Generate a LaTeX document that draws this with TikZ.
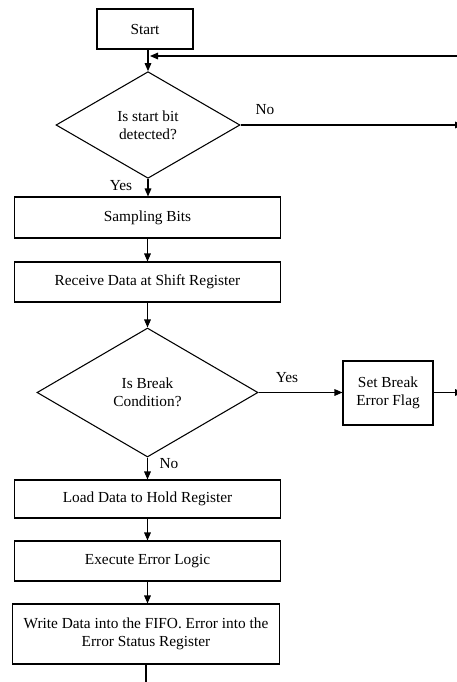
\documentclass[tikz,border=0pt]{standalone}
\usepackage{fontspec}
\setmainfont{Liberation Serif}
\usetikzlibrary{shapes.geometric,arrows.meta}
\begin{document}
\begin{tikzpicture}[x=0.75pt,y=-0.75pt,
  every node/.style={font=\fontsize{11.5}{13.5}\selectfont},
  box/.style={draw,line width=0.8pt,rectangle,inner sep=2pt,align=center},
  wide/.style={box,minimum width=200pt},
  decision/.style={draw,line width=0.8pt,diamond,inner sep=0pt,align=center},
  flow/.style={line width=0.8pt,-{Triangle[length=6pt,width=5pt]}},
  lbl/.style={inner sep=0pt}]
\useasboundingbox (0,0) rectangle (457,682);

% process boxes
\node[box,minimum width=72pt,minimum height=30pt] (start) at (145,29) {Start};
\node[decision,minimum width=138pt,minimum height=80pt] (d1) at (148,125) {Is start bit\\detected?};
\node[wide,minimum height=30.75pt] (samp) at (147.5,217.5) {Sampling Bits};
\node[wide,minimum height=30pt] (recv) at (147.5,282) {Receive Data at Shift Register};
\node[decision,minimum width=165.75pt,minimum height=96.75pt] (d2) at (147.5,392.5) {Is Break\\Condition?};
\node[box,minimum width=67.5pt,minimum height=48pt] (flag) at (388,393) {Set Break\\Error Flag};
\node[wide,minimum height=28.5pt] (load) at (147.5,499) {Load Data to Hold Register};
\node[wide,minimum height=30pt] (exec) at (147.5,561) {Execute Error Logic};
\node[wide,minimum height=45pt,inner sep=0pt] (write) at (146,634) {Write Data into the FIFO. Error into the\\Error Status Register};

% loose ends beyond the right and bottom edges
\coordinate (back) at (470,56);
\coordinate (join) at (148,56);
\coordinate (noout) at (463,125);
\coordinate (flagout) at (463,392.5);
\coordinate (down) at (146,692);

% connectors
\draw[flow] (start.south -| d1.north) -- (d1.north);
\draw[flow] (back) -- ([xshift=1.5pt]join);
\draw[flow] (d1.east) -- (noout);
\draw[flow] (d1.south) -- (d1.south |- samp.north);
\draw[flow] (samp.south) -- (recv.north);
\draw[flow] (recv.south) -- (recv.south |- d2.north);
\draw[flow] (d2.east) -- (flag.west |- d2.east);
\draw[flow] (flag.east |- d2.east) -- (flagout);
\draw[flow] (d2.south) -- (d2.south |- load.north);
\draw[flow] (load.south) -- (exec.north);
\draw[flow] (exec.south) -- (exec.south |- write.north);
\draw[flow] (write.south) -- (down);

% branch labels
\node[lbl] (lno1) at (265,110) {No};
\node[lbl] (lyes1) at (121,186) {Yes};
\node[lbl] (lyes2) at (287,378) {Yes};
\node[lbl] (lno2) at (169,464) {No};
\end{tikzpicture}
\end{document}
